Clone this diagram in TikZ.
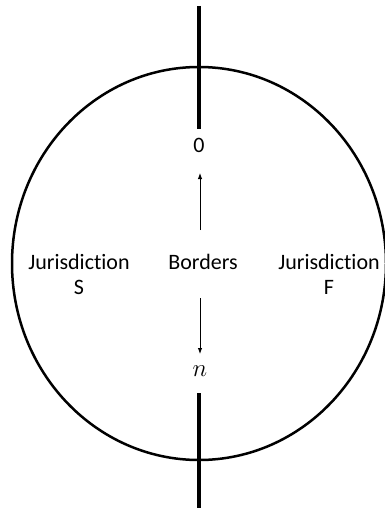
\documentclass[tikz,border=0pt]{standalone}
\usepackage{fontspec}
\setmainfont[Ligatures=NoCommon]{Carlito}
\usetikzlibrary{arrows.meta}
\begin{document}
\begin{tikzpicture}[x=1pt,y=-1pt,
  lbl/.style={font=\fontsize{22}{25}\selectfont, align=center, inner sep=0pt},
  border/.style={line width=4pt},
  rim/.style={line width=2.5pt},
  arr/.style={line width=0.9pt, -{Latex[length=6pt,width=4.5pt]}}]
\useasboundingbox (0,0) rectangle (385,508);
\clip (0,0) rectangle (385,508);
\draw[rim] (199,263.5) ellipse [x radius=187, y radius=196.5];
\coordinate (t1) at (199,6);
\coordinate (t2) at (199,129);
\coordinate (b1) at (199,393);
\coordinate (b2) at (199,510);
\draw[border] (t1) -- (t2);
\draw[border] (b1) -- (b2);
\node[lbl] (zero) at (199,145) {0};
\node[lbl, font=\fontsize{27}{30}\selectfont] (nn) at (200,371) {$n$};
\node[lbl] (borders) at (203,262) {Borders};
\node[lbl] (jurS) at (79,274) {Jurisdiction\\S};
\node[lbl] (jurF) at (329,274) {Jurisdiction\\F};
\coordinate (ua) at (200,230);
\coordinate (ub) at (200,173);
\coordinate (da) at (200,298);
\coordinate (db) at (200,354);
\draw[arr] (ua) -- (ub);
\draw[arr] (da) -- (db);
\end{tikzpicture}
\end{document}
